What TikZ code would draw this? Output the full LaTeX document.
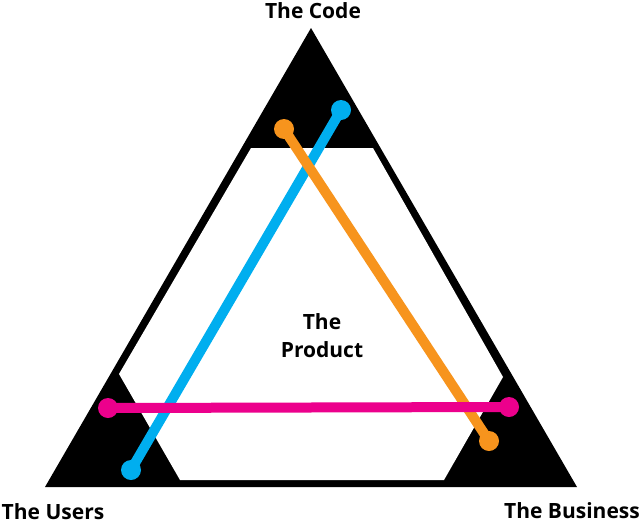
\documentclass[tikz,border=0pt]{standalone}
\usepackage{fontspec}
\setmainfont{Open Sans}
\definecolor{cblue}{HTML}{00AEEF}
\definecolor{corange}{HTML}{F7941D}
\definecolor{cpink}{HTML}{EC008C}
\begin{document}
\begin{tikzpicture}[x=1pt,y=-1pt,
  lbl/.style={font=\fontsize{21}{28}\selectfont\bfseries, inner sep=0pt},
  link/.style={line width=10pt},
  dot/.style={circle, minimum size=20pt, inner sep=0pt}]
\useasboundingbox (0,0) rectangle (642,525);
% triangle and hexagon
\fill[black] (311,28) -- (577,487) -- (45,487) -- cycle;
\fill[white] (251,148) -- (373,148) -- (503,377) -- (444,480) -- (180,480) -- (119,374) -- cycle;
% end points
\node[dot, fill=cblue] (b1) at (131,470) {};
\node[dot, fill=cblue] (b2) at (341,110) {};
\node[dot, fill=corange] (o1) at (284,129) {};
\node[dot, fill=corange] (o2) at (489,441) {};
\node[dot, fill=cpink] (p1) at (108,408) {};
\node[dot, fill=cpink] (p2) at (509,407) {};
\draw[link, cblue] (b1.center) -- (b2.center);
\draw[link, corange] (o1.center) -- (o2.center);
\draw[link, cpink] (p1.center) -- (p2.center);
% labels
\node[lbl] (code) at (313,11) {The Code};
\node[lbl] (users) at (53,512) {The Users};
\node[lbl] (business) at (572,511) {The Business};
\node[lbl, align=center] (product) at (322,336) {The\\Product};
\end{tikzpicture}
\end{document}
